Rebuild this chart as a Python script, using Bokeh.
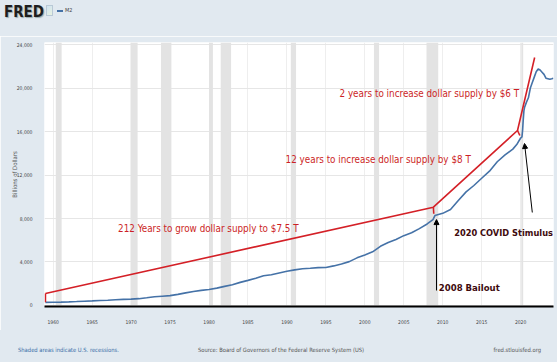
from bokeh.plotting import figure
from bokeh.layouts import column
from bokeh.models import (Range1d, FixedTicker, NumeralTickFormatter, Label, Arrow,
                          NormalHead, BoxAnnotation, Div)
from bokeh.embed import file_html
from bokeh.resources import INLINE

# ---- data -------------------------------------------------------------
m2_year = [1959.0, 1960.0, 1961.0, 1962.0, 1963.0, 1964.0, 1965.0, 1966.0, 1967.0, 1968.0,
           1969.0, 1970.0, 1971.0, 1972.0, 1973.0, 1974.0, 1975.0, 1976.0, 1977.0, 1978.0,
           1979.0, 1980.0, 1981.0, 1982.0, 1983.0, 1984.0, 1985.0, 1986.0, 1987.0, 1988.0,
           1989.0, 1990.0, 1991.0, 1992.0, 1993.0, 1994.0, 1995.0, 1996.0, 1997.0, 1998.0,
           1999.0, 2000.0, 2001.0, 2002.0, 2003.0, 2004.0, 2005.0, 2006.0, 2007.0, 2008.0,
           2008.75, 2009.0, 2010.0, 2011.0, 2012.0, 2013.0, 2014.0, 2015.0, 2016.0, 2017.0,
           2018.0, 2019.0, 2019.5, 2020.0, 2020.17, 2020.25, 2020.33, 2020.42, 2020.5, 2020.75,
           2021.0, 2021.25, 2021.5, 2021.75, 2022.0, 2022.25, 2022.5, 2022.75, 2023.0, 2023.25,
           2023.5, 2023.75, 2024.0, 2024.2]
m2_value = [286, 299, 313, 336, 363, 393, 425, 460, 481, 525,
            567, 588, 628, 710, 802, 856, 908, 1023, 1164, 1287,
            1389, 1474, 1600, 1756, 1910, 2127, 2310, 2497, 2734, 2832,
            2993, 3156, 3279, 3380, 3431, 3484, 3494, 3641, 3823, 4035,
            4380, 4650, 4938, 5442, 5787, 6073, 6423, 6688, 7073, 7497,
            7900, 8270, 8474, 8828, 9660, 10448, 11035, 11700, 12350, 13220,
            13850, 14380, 14800, 15400, 15500, 16100, 17000, 17900, 18200, 18700,
            19100, 20000, 20500, 21000, 21500, 21750, 21650, 21450, 21250, 20900,
            20850, 20800, 20850, 20900]

rec_start = [1960.33, 1969.92, 1973.83, 1980.0, 1981.5, 1990.5, 2001.17, 2007.92, 2020.08]
rec_end = [1961.08, 1970.83, 1975.17, 1980.5, 1982.83, 1991.17, 2001.83, 2009.42, 2020.33]

# hand-drawn red trend annotation (year, billions)
red_year = [1959.0, 2008.8, 2019.6, 2021.8]
red_value = [1100, 9040, 16090, 22800]
# short red connectors down to the M2 line
tick_year0 = [1959.0, 2008.8, 2019.6]
tick_val0 = [1100, 9040, 16090]
tick_year1 = [1959.0, 2008.85, 2019.9]
tick_val1 = [290, 8430, 15630]

x_ticks = [1960, 1965, 1970, 1975, 1980, 1985, 1990, 1995, 2000, 2005, 2010, 2015, 2020]
y_ticks = [0, 4000, 8000, 12000, 16000, 20000, 24000]

BG = "#e1e9f0"
FC = "DejaVu Sans Condensed"
W = 557

# ---- header (HTML) ----------------------------------------------------
head_html = (
    f'<div style="position:relative;width:{W}px;height:36px;background:{BG};'
    f'font-family:\'{FC}\';">'
    '<span style="position:absolute;left:4px;top:2px;font-size:15px;font-weight:bold;'
    'color:#1e1e1e;text-shadow:1px 1px 1px #9aa;">FRED</span>'
    '<span style="position:absolute;left:46px;top:5px;width:7px;height:11px;'
    'background:linear-gradient(135deg,#cfe3f3,#e8f2e0);border:1px solid #b9c9d6;"></span>'
    '<span style="position:absolute;left:57px;top:10px;width:6px;height:2px;'
    'background:#4572a7;"></span>'
    '<span style="position:absolute;left:65px;top:7px;font-size:5.5px;color:#444;">M2</span>'
    '</div>'
)
head = Div(text=head_html, width=W, height=36, margin=(0, 0, 0, 0),
           styles={"background-color": BG})

# ---- main chart -------------------------------------------------------
p = figure(width=W, height=294, output_backend="svg", toolbar_location=None,
           x_range=Range1d(1958.88, 2024.22), y_range=Range1d(-92, 24184),
           frame_width=509, frame_height=264,
           min_border_left=44, min_border_right=4, min_border_top=6, min_border_bottom=24)
p.border_fill_color = BG
p.background_fill_color = "white"
p.outline_line_color = None

for s, e in zip(rec_start, rec_end):
    p.add_layout(BoxAnnotation(left=s, right=e, fill_color="#e3e3e3", fill_alpha=1.0,
                               line_color=None, level="underlay"))

p.xaxis.ticker = FixedTicker(ticks=x_ticks)
p.xaxis.formatter = NumeralTickFormatter(format="0")
p.xaxis.axis_line_color = "black"
p.xaxis.axis_line_width = 2
p.xaxis.major_tick_line_color = None
p.xaxis.minor_tick_line_color = None
p.xaxis.major_label_text_font = FC
p.xaxis.major_label_text_font_size = "5px"
p.xaxis.major_label_text_color = "#444444"
p.xaxis.major_label_standoff = 7

p.yaxis.ticker = FixedTicker(ticks=y_ticks)
p.yaxis.formatter = NumeralTickFormatter(format="0,0")
p.yaxis.axis_line_color = None
p.yaxis.major_tick_line_color = None
p.yaxis.minor_tick_line_color = None
p.yaxis.major_label_text_font = FC
p.yaxis.major_label_text_font_size = "5px"
p.yaxis.major_label_text_color = "#444444"
p.yaxis.major_label_standoff = 6
p.yaxis.axis_label = "Billions of Dollars"
p.yaxis.axis_label_text_font = FC
p.yaxis.axis_label_text_font_size = "6px"
p.yaxis.axis_label_text_font_style = "normal"
p.yaxis.axis_label_text_color = "#555555"
p.yaxis.axis_label_standoff = -4

p.xgrid.ticker = FixedTicker(ticks=x_ticks)
p.xgrid.grid_line_color = "#eeeeee"
p.ygrid.grid_line_color = "#e6e6e6"

p.line(m2_year, m2_value, line_color="#4572a7", line_width=1.6)

p.line(red_year, red_value, line_color="#d42027", line_width=1.6)
p.segment(x0=tick_year0, y0=tick_val0, x1=tick_year1, y1=tick_val1,
          line_color="#d42027", line_width=1.6)

RED_TXT = "#cc1f26"
DARK_TXT = "#3e0a0d"


def lab(x, y, t, color, size, style="normal", align="left"):
    p.add_layout(Label(x=x, y=y, text=t, text_color=color, text_font=FC,
                       text_font_size=size, text_font_style=style, text_align=align,
                       text_baseline="middle"))


lab(1991.5, 7080, "212 Years to grow dollar supply to $7.5 T", RED_TXT, "9.8px", align="right")
lab(2013.6, 13425, "12 years to increase dollar supply by $8 T", RED_TXT, "9.8px", align="right")
lab(2019.8, 19494, "2 years to increase dollar supply by $6 T", RED_TXT, "9.8px", align="right")
lab(2009.5, 1655, "2008 Bailout", DARK_TXT, "9.5px", "bold")
lab(2024.15, 6713, "2020 COVID Stimulus", DARK_TXT, "9.2px", "bold", align="right")

p.add_layout(Arrow(end=NormalHead(size=5, fill_color="black", line_color="black"),
                   x_start=2009.2, y_start=1380, x_end=2009.2, y_end=7900,
                   line_color="black", line_width=1))
p.add_layout(Arrow(end=NormalHead(size=5, fill_color="black", line_color="black"),
                   x_start=2021.5, y_start=8552, x_end=2020.5, y_end=14897,
                   line_color="black", line_width=1))

# ---- footer (HTML) ----------------------------------------------------
foot_html = (
    f'<div style="position:relative;width:{W}px;height:32px;background:{BG};'
    f'font-family:\'{FC}\';font-size:5.8px;line-height:8px;">'
    '<span style="position:absolute;left:18px;top:16px;color:#3b6ea8;">'
    'Shaded areas indicate U.S. recessions.</span>'
    '<span style="position:absolute;left:0;width:562px;text-align:center;top:16px;'
    'color:#555;">Source: Board of Governors of the Federal Reserve System (US)</span>'
    '<span style="position:absolute;right:16px;top:16px;color:#555;">'
    'fred.stlouisfed.org</span>'
    '</div>'
)
foot = Div(text=foot_html, width=W, height=32, margin=(0, 0, 0, 0),
           styles={"background-color": BG})

layout = column(head, p, foot, spacing=0)
open("out.html", "w").write(file_html(layout, INLINE))
